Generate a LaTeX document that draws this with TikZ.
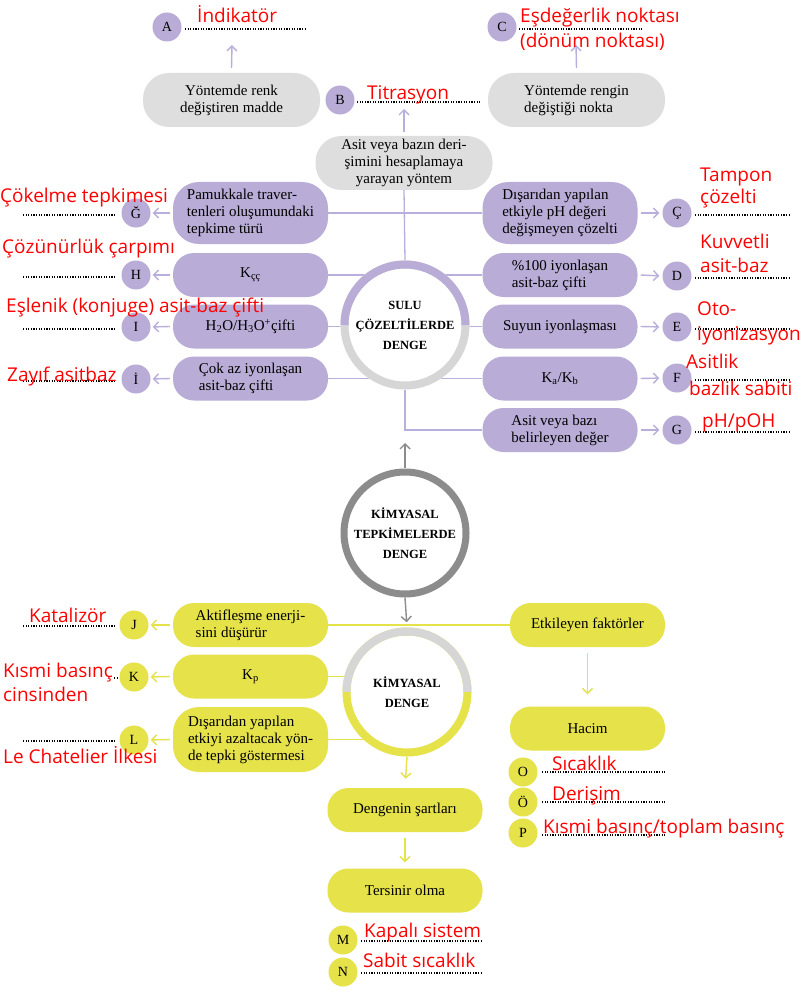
\documentclass[tikz,border=0pt]{standalone}
\usepackage{fontspec}
\setmainfont{Liberation Serif}
\newfontfamily\ansfont{Open Sans}
\usetikzlibrary{arrows.meta}
\definecolor{purp}{RGB}{185,172,214}
\definecolor{purpline}{RGB}{186,175,220}
\definecolor{graybox}{RGB}{222,222,222}
\definecolor{ringgray}{RGB}{214,214,214}
\definecolor{darkring}{RGB}{140,140,140}
\definecolor{yel}{RGB}{229,226,74}
\definecolor{ansred}{RGB}{255,0,0}
\pgfdeclarelayer{back}
\pgfdeclarelayer{bg}
\pgfsetlayers{back,bg,main}
\begin{document}
\begin{tikzpicture}[x=1pt,y=-1pt,
  boxtxt/.style={font=\fontsize{15}{17}\selectfont},
  pb/.style={fill=purp, rounded corners=21pt, minimum width=155pt, minimum height=44pt, inner sep=0pt, align=center, boxtxt},
  pb3/.style={pb, minimum height=62pt, rounded corners=26pt},
  gb/.style={fill=graybox, rounded corners=26pt, minimum width=177pt, minimum height=54pt, inner sep=0pt, align=center, boxtxt},
  yb/.style={pb, fill=yel},
  yb3/.style={pb3, fill=yel},
  lc/.style={circle, fill=purp, minimum size=29pt, inner sep=0pt, font=\fontsize{14}{14}\selectfont},
  ylc/.style={lc, fill=yel},
  bigc/.style={circle, fill=white, minimum size=129pt, inner sep=0pt, align=center, font=\bfseries\fontsize{12.5}{20}\selectfont},
  answer/.style={text=ansred, font=\ansfont\fontsize{19}{22}\selectfont, anchor=base west, inner sep=0pt},
  dotline/.style={black, line width=1.2pt, dash pattern=on 1.1pt off 1.5pt},
  pline/.style={purpline, line width=1.3pt},
  yline/.style={yel, line width=1.3pt},
  parr/.style={purpline, line width=1.4pt, -{Straight Barb[length=5pt,width=10pt]}},
  yarr/.style={yel, line width=1.4pt, -{Straight Barb[length=5pt,width=10pt]}},
  garr/.style={darkring, line width=1.4pt, -{Straight Barb[length=5pt,width=10pt]}},
]
\useasboundingbox (0,0) rectangle (800,995);
\begin{pgfonlayer}{back}
\fill[white] (0,0) rectangle (800,995);
\end{pgfonlayer}

% ---------- top gray boxes ----------
\node[gb] (boxA) at (231.5,100) {Yöntemde renk\\değiştiren madde};
\node[gb, align=left] (boxC) at (576.5,100) {Yöntemde rengin\\değiştiği nokta};
\node[gb] (boxB) at (404,163) {Asit veya bazın deri-\\şimini hesaplamaya\\yarayan yöntem};
\node[lc] (Ac) at (167,27) {A};
\node[lc] (Bc) at (340,100) {B};
\node[lc] (Cc) at (502,27) {C};
\coordinate (Atip) at (232,45);
\coordinate (Ctip) at (576,45);
\coordinate (Btip) at (404,109);
\draw[parr] ([yshift=5pt]boxA.north) -- (Atip);
\draw[parr] ([yshift=5pt]boxC.north) -- (Ctip);
\draw[parr] ([yshift=4pt]boxB.north) -- (Btip);

% ---------- big circles ----------
\node[bigc] (sulu) at (405,325) {SULU\\ÇÖZELTİLERDE\\DENGE};
\draw[ringgray, line width=8pt] (sulu.center) circle[radius=60.5pt];
\draw[purp, line width=8pt] ([shift={(180:60.5pt)}]sulu.center) arc[start angle=180, end angle=0, radius=60.5pt];

\node[bigc] (ktd) at (405,533) {KİMYASAL\\TEPKİMELERDE\\DENGE};
\draw[darkring, line width=7pt] (ktd.center) circle[radius=61pt];

\node[bigc] (kd) at (407,692) {KİMYASAL\\DENGE};
\draw[yel, line width=8pt] (kd.center) circle[radius=60.5pt];
\draw[ringgray, line width=8pt] ([shift={(180:60.5pt)}]kd.center) arc[start angle=180, end angle=0, radius=60.5pt];

% ---------- purple boxes ----------
\node[pb3, align=left] (gbx) at (250.5,213) {Pamukkale traver-\\tenleri oluşumundaki\\tepkime türü};
\node[pb] (hbx) at (250.5,275) {K\textsubscript{çç}};
\node[pb] (ibx) at (250.5,326.5) {H\textsubscript{2}O/H\textsubscript{3}O\textsuperscript{+}çifti};
\node[pb, align=left] (idbx) at (250.5,378.5) {Çok az iyonlaşan\\asit-baz çifti};

\node[pb3, align=left] (cbx) at (560,213) {Dışarıdan yapılan\\etkiyle pH değeri\\değişmeyen çözelti};
\node[pb, align=left] (dbx) at (560,275) {\%100 iyonlaşan\\asit-baz çifti};
\node[pb] (ebx) at (560,326.5) {Suyun iyonlaşması};
\node[pb] (fbx) at (560,378.5) {K\textsubscript{a}/K\textsubscript{b}};
\node[pb, align=left] (gbox) at (560,430) {Asit veya bazı\\belirleyen değer};

\node[lc] (Gc) at (136,213) {Ğ};
\node[lc] (Hc) at (136,275) {H};
\node[lc] (Ic) at (136,327) {I};
\node[lc] (Idc) at (136,379) {İ};
\node[lc] (Ccc) at (677,213) {Ç};
\node[lc] (Dc) at (677,276) {D};
\node[lc] (Ec) at (677,327) {E};
\node[lc] (Fc) at (677,378) {F};
\node[lc] (GGc) at (677,430) {G};

\foreach \b/\c in {gbx/Gc, hbx/Hc, ibx/Ic, idbx/Idc}
  \draw[parr, shorten >=2pt] ([xshift=-3pt]\b.west) -- (\c.east);
\foreach \b/\c in {cbx/Ccc, dbx/Dc, ebx/Ec, fbx/Fc, gbox/GGc}
  \draw[parr, shorten >=3pt] ([xshift=3pt]\b.east) -- (\c.west);

% ---------- yellow ----------
\node[yb, align=left] (jbx) at (250.5,625) {Aktifleşme enerji-\\sini düşürür};
\node[yb] (kbx) at (250.5,676.5) {K\textsubscript{p}};
\node[yb3, align=left, minimum height=65pt] (lbx) at (250.5,739.5) {Dışarıdan yapılan\\etkiyi azaltacak yön-\\de tepki göstermesi};
\node[ylc] (Jc) at (134,625) {J};
\node[ylc] (Kc) at (134,677) {K};
\node[ylc] (Lc) at (134,740) {L};
\foreach \b/\c in {jbx/Jc, kbx/Kc, lbx/Lc}
  \draw[yarr, shorten >=2pt] ([xshift=-3pt]\b.west) -- (\c.east);

\node[yb] (etk) at (587.5,625) {Etkileyen faktörler};
\node[yb] (hac) at (587.5,728.5) {Hacim};
\node[ylc] (Oc) at (523,772) {O};
\node[ylc] (Occ) at (523,802) {Ö};
\node[ylc] (Pc) at (523,833) {P};

\node[yb] (deng) at (405,810) {Dengenin şartları};
\node[yb] (ters) at (405,890.5) {Tersinir olma};
\node[ylc] (Mc) at (343,940) {M};
\node[ylc] (Nc) at (343,972) {N};

\coordinate (ktdtip) at (405,443);
\draw[garr] (ktd.north) -- (ktdtip);
\draw[garr, shorten >=5pt] (ktd.south) -- (kd.north);
\draw[yarr, shorten >=9pt] (kd.south) -- (deng.north);
\draw[yarr, shorten <=6pt, shorten >=6pt] (deng.south) -- (ters.north);
\draw[yarr, shorten <=6pt, shorten >=12pt] (etk.south) -- (hac.north);

% ---------- connectors behind ----------
\begin{pgfonlayer}{bg}
\draw[pline] (boxB.south) -- (sulu.north);
\draw[pline] (gbx.east) -- (cbx.west);
\draw[pline] (hbx.east) -- (dbx.west);
\draw[pline] (ibx.east) -- (ebx.west);
\draw[pline] (idbx.east) -- (fbx.west);
\draw[pline] (sulu.south) |- (gbox.west);
\draw[yline] (jbx.east) -- (etk.west);
\draw[yline] (kbx.east) -- (kbx.east -| kd.center);
\draw[yline] (lbx.east) -- (lbx.east -| kd.center);
\end{pgfonlayer}

% ---------- dotted answer lines ----------
\draw[dotline] (185,29) -- (307,29);
\draw[dotline] (357,102) -- (481,102);
\draw[dotline] (519,29) -- (643,29);
\foreach \y in {215,277,329,381} \draw[dotline] (23,\y) -- (115,\y);
\foreach \y in {215,278,329,380,432} \draw[dotline] (695,\y) -- (790,\y);
\draw[dotline] (23,626) -- (115,626);
\draw[dotline] (114,678) -- (117,678);
\draw[dotline] (23,741) -- (115,741);
\foreach \y in {772,802,835} \draw[dotline] (542,\y) -- (665,\y);
\draw[dotline] (361,941) -- (483,941);
\draw[dotline] (361,973) -- (483,973);

% ---------- red answers ----------
\node[answer] (aA) at (197,23) {İndikatör};
\node[answer] (aB) at (367,100) {Titrasyon};
\node[answer] (aC1) at (520,23) {Eşdeğerlik noktası};
\node[answer] (aC2) at (520,48) {(dönüm noktası)};
\node[answer] (aG) at (0,202) {Çökelme tepkimesi};
\node[answer] (aH) at (2,253) {Çözünürlük çarpımı};
\node[answer] (aI) at (6,312) {Eşlenik (konjuge) asit-baz çifti};
\node[answer] (aId) at (7,381) {Zayıf asitbaz};
\node[answer] (aCc1) at (700,182) {Tampon};
\node[answer] (aCc2) at (700,204) {çözelti};
\node[answer] (aD1) at (700,248) {Kuvvetli};
\node[answer] (aD2) at (700,272) {asit-baz};
\node[answer] (aE1) at (697,315) {Oto-};
\node[answer] (aE2) at (697,340) {iyonizasyon};
\node[answer] (aF1) at (686,368) {Asitlik};
\node[answer] (aF2) at (689,395) {bazlik sabiti};
\node[answer] (aGG) at (702,427) {pH/pOH};
\node[answer] (aJ) at (29,622) {Katalizör};
\node[answer] (aK1) at (3,677) {Kısmi basınç};
\node[answer] (aK2) at (3,701) {cinsinden};
\node[answer] (aL) at (3,763) {Le Chatelier İlkesi};
\node[answer] (aO) at (552,770) {Sıcaklık};
\node[answer] (aOc) at (552,800) {Derişim};
\node[answer] (aP) at (543,833) {Kısmi basınç/toplam basınç};
\node[answer] (aM) at (364,937) {Kapalı sistem};
\node[answer] (aN) at (363,967) {Sabit sıcaklık};
\end{tikzpicture}
\end{document}
